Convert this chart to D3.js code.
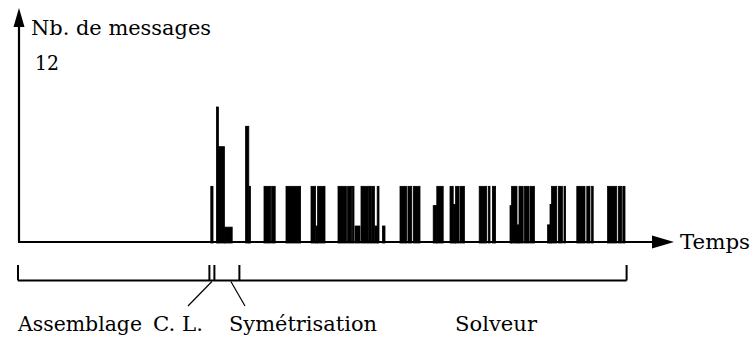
<!DOCTYPE html>
<html>
<head>
<meta charset="utf-8">
<script src="https://cdn.jsdelivr.net/npm/d3@7"></script>
<style>
  html, body { margin: 0; padding: 0; background: #fff; }
  svg { display: block; }
</style>
</head>
<body>
<script>
// ---- data (time in arbitrary units, count = number of messages) ----
const clBars = [
  [96.4, 97.5, 5], [99.2, 100.2, 12], [100.2, 103.2, 8.5], [103.2, 107.1, 1.4]
];
const symBars = [
  [113.8, 115.4, 10.3], [115.4, 116.2, 5]
];
const solverBars = [
  [123, 126.3, 5], [126.8, 128.6, 5], [134, 141.3, 5],
  [146.5, 148.8, 5], [149, 149.8, 1.5], [149.8, 153.5, 5],
  [160, 164.2, 5], [164.8, 166.8, 5], [167.2, 168, 5], [168.5, 171, 1.5],
  [171.5, 175.2, 5], [175.5, 176.5, 5], [176.8, 178.2, 5], [178.5, 179.6, 1.5],
  [179.6, 180.5, 5], [182.2, 183.5, 1.5],
  [191, 194.4, 5], [195, 196.8, 5], [197.6, 201, 5],
  [207.6, 209.4, 3.3], [209.4, 212.6, 5],
  [216, 217.6, 5], [217.6, 218.8, 3.4], [218.8, 220.5, 5], [221, 223.2, 5],
  [230.6, 234.4, 5], [235.2, 236, 5], [237.2, 238.8, 5],
  [246, 246.8, 3.3], [246.8, 249.5, 5], [249.5, 250.5, 1.6], [250.5, 252.6, 5],
  [253.2, 255.5, 5], [256, 258.2, 5],
  [264.8, 266, 1.6], [266, 266.8, 3.4], [266.8, 269.4, 5], [270.2, 272.2, 5], [273, 273.8, 5],
  [279.4, 283.5, 5], [284.4, 286, 5], [286.8, 287.6, 5],
  [294.8, 299.4, 5], [300.2, 301.8, 5], [302.4, 303.5, 5]
];
const phaseTicks = [0, 95.7, 98.2, 110.7, 304.3];
const phaseLabels = ["Assemblage", "C. L.", "Symétrisation", "Solveur"];
const yLabel = "Nb. de messages";
const yMaxLabel = "12";
const xLabel = "Temps";

// ---- layout ----
const W = 754, H = 339;
const FONT = "DejaVu Serif";
const FS = 21;
const svg = d3.select("body").append("svg").attr("width", W).attr("height", H);

const x = d3.scaleLinear().domain([0, 331]).range([18, 680]);
const y = d3.scaleLinear().domain([0, 12]).range([243, 107]);

const bars = clBars.concat(symBars, solverBars);

svg.append("g").selectAll("rect").data(bars).join("rect")
  .attr("x", d => x(d[0]))
  .attr("width", d => x(d[1]) - x(d[0]))
  .attr("y", d => y(d[2]))
  .attr("height", d => y(0) - y(d[2]))
  .attr("fill", "#000")
  .attr("stroke", "#000").attr("stroke-width", 0.8);

// axes
const x0 = x(0), yBase = y(0) - 1;
svg.append("line").attr("x1", x0).attr("x2", 654).attr("y1", yBase).attr("y2", yBase)
  .attr("stroke", "#000").attr("stroke-width", 2);
svg.append("path").attr("d", `M652,${yBase-6.5} L674,${yBase} L652,${yBase+6.5} Z`).attr("fill", "#000");
svg.append("line").attr("x1", x0 + 1).attr("x2", x0 + 1).attr("y1", yBase).attr("y2", 24)
  .attr("stroke", "#000").attr("stroke-width", 2.2);
svg.append("path").attr("d", `M${x0+1-5.5},27 L${x0+1},8 L${x0+1+5.5},27 Z`).attr("fill", "#000");

function txt(xp, yp, s, w) {
  return svg.append("text").attr("x", xp).attr("y", yp)
    .style("font-family", FONT).attr("font-size", FS).attr("fill", "#000")
    .attr("textLength", w).attr("lengthAdjust", "spacingAndGlyphs").text(s);
}
txt(31, 35, yLabel, 180);
txt(35, 70, yMaxLabel, 24);
txt(680, 249, xLabel, 70);

// phase brackets
const by = 280.5;
svg.append("line").attr("x1", x(phaseTicks[0])).attr("x2", x(phaseTicks[4]))
  .attr("y1", by).attr("y2", by).attr("stroke", "#000").attr("stroke-width", 2);
svg.append("g").selectAll("line").data(phaseTicks).join("line")
  .attr("x1", d => x(d)).attr("x2", d => x(d))
  .attr("y1", 265).attr("y2", by)
  .attr("stroke", "#000").attr("stroke-width", 2);

// leader lines
const lead = [
  [(phaseTicks[1] + phaseTicks[2]) / 2, 188],
  [(phaseTicks[2] + phaseTicks[3]) / 2 + 2, 245]
];
svg.append("g").selectAll("line").data(lead).join("line")
  .attr("x1", d => x(d[0])).attr("y1", by + 1)
  .attr("x2", d => d[1]).attr("y2", 306)
  .attr("stroke", "#000").attr("stroke-width", 1.2);

const labelX = [18, 153, 229, 455];
const labelW = [124, 50, 148, 82];
phaseLabels.forEach((s, i) => txt(labelX[i], 331, s, labelW[i]));
</script>
</body>
</html>
